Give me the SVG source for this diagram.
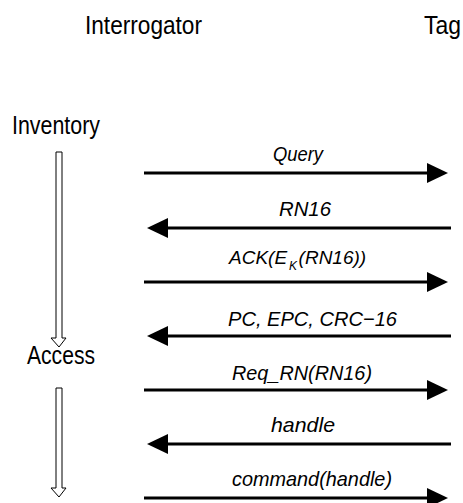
<svg xmlns="http://www.w3.org/2000/svg" width="463" height="503" viewBox="0 0 463 503">
<style>
.hdr{font-family:"Liberation Sans",Arial,sans-serif;font-size:25px;fill:#000}
.lbl{font-family:"Liberation Sans",Arial,sans-serif;font-size:21px;font-style:italic;fill:#000}
.msg{stroke:#000;stroke-width:3;fill:none;marker-end:url(#ah)}
.phase{fill:#fff;stroke:#000;stroke-width:1}
</style>
<defs>
<marker id="ah" markerUnits="userSpaceOnUse" markerWidth="21" markerHeight="20" viewBox="0 0 21 20" refX="0" refY="10" orient="auto">
<path d="M0,0 L21,10 L0,20 Z" fill="#000"/>
</marker>
</defs>
<rect width="463" height="503" fill="#fff"/>
<g id="interrogator"><text class="hdr" x="85" y="34" textLength="117" lengthAdjust="spacingAndGlyphs">Interrogator</text></g>
<g id="tag"><text class="hdr" x="424" y="34" textLength="37" lengthAdjust="spacingAndGlyphs">Tag</text></g>
<g id="inventory"><text class="hdr" x="12" y="134" textLength="88" lengthAdjust="spacingAndGlyphs">Inventory</text>
<path class="phase" d="M56,152 H62 V338 H66 L59,347 L51,338 H56 Z"/></g>
<g id="access"><text class="hdr" x="27" y="364" textLength="68" lengthAdjust="spacingAndGlyphs">Access</text>
<path class="phase" d="M56,388 H62 V488 H66 L59,497 L51,488 H56 Z"/></g>
<g id="connectors">
<line class="msg" x1="144" y1="173" x2="427" y2="173"/>
<text class="lbl" x="273" y="161" textLength="50" lengthAdjust="spacingAndGlyphs">Query</text>
<line class="msg" x1="451" y1="228" x2="168" y2="228"/>
<text class="lbl" x="279" y="216" textLength="52" lengthAdjust="spacingAndGlyphs">RN16</text>
<line class="msg" x1="144" y1="282" x2="427" y2="282"/>
<text class="lbl" x="229" y="264" style="font-size:19px">ACK(E<tspan style="font-size:12px" dx="2" dy="6">K</tspan><tspan dx="1.5" dy="-6">(RN16))</tspan></text>
<line class="msg" x1="451" y1="336" x2="168" y2="336"/>
<text class="lbl" x="228" y="326" textLength="169" lengthAdjust="spacingAndGlyphs">PC, EPC, CRC−16</text>
<line class="msg" x1="144" y1="390" x2="427" y2="390"/>
<text class="lbl" x="232" y="380" textLength="140" lengthAdjust="spacingAndGlyphs">Req_RN(RN16)</text>
<line class="msg" x1="451" y1="444" x2="168" y2="444"/>
<text class="lbl" x="271" y="432" textLength="64" lengthAdjust="spacingAndGlyphs">handle</text>
<line class="msg" x1="144" y1="498" x2="427" y2="498"/>
<text class="lbl" x="232" y="486" textLength="160" lengthAdjust="spacingAndGlyphs">command(handle)</text>
</g>
</svg>
